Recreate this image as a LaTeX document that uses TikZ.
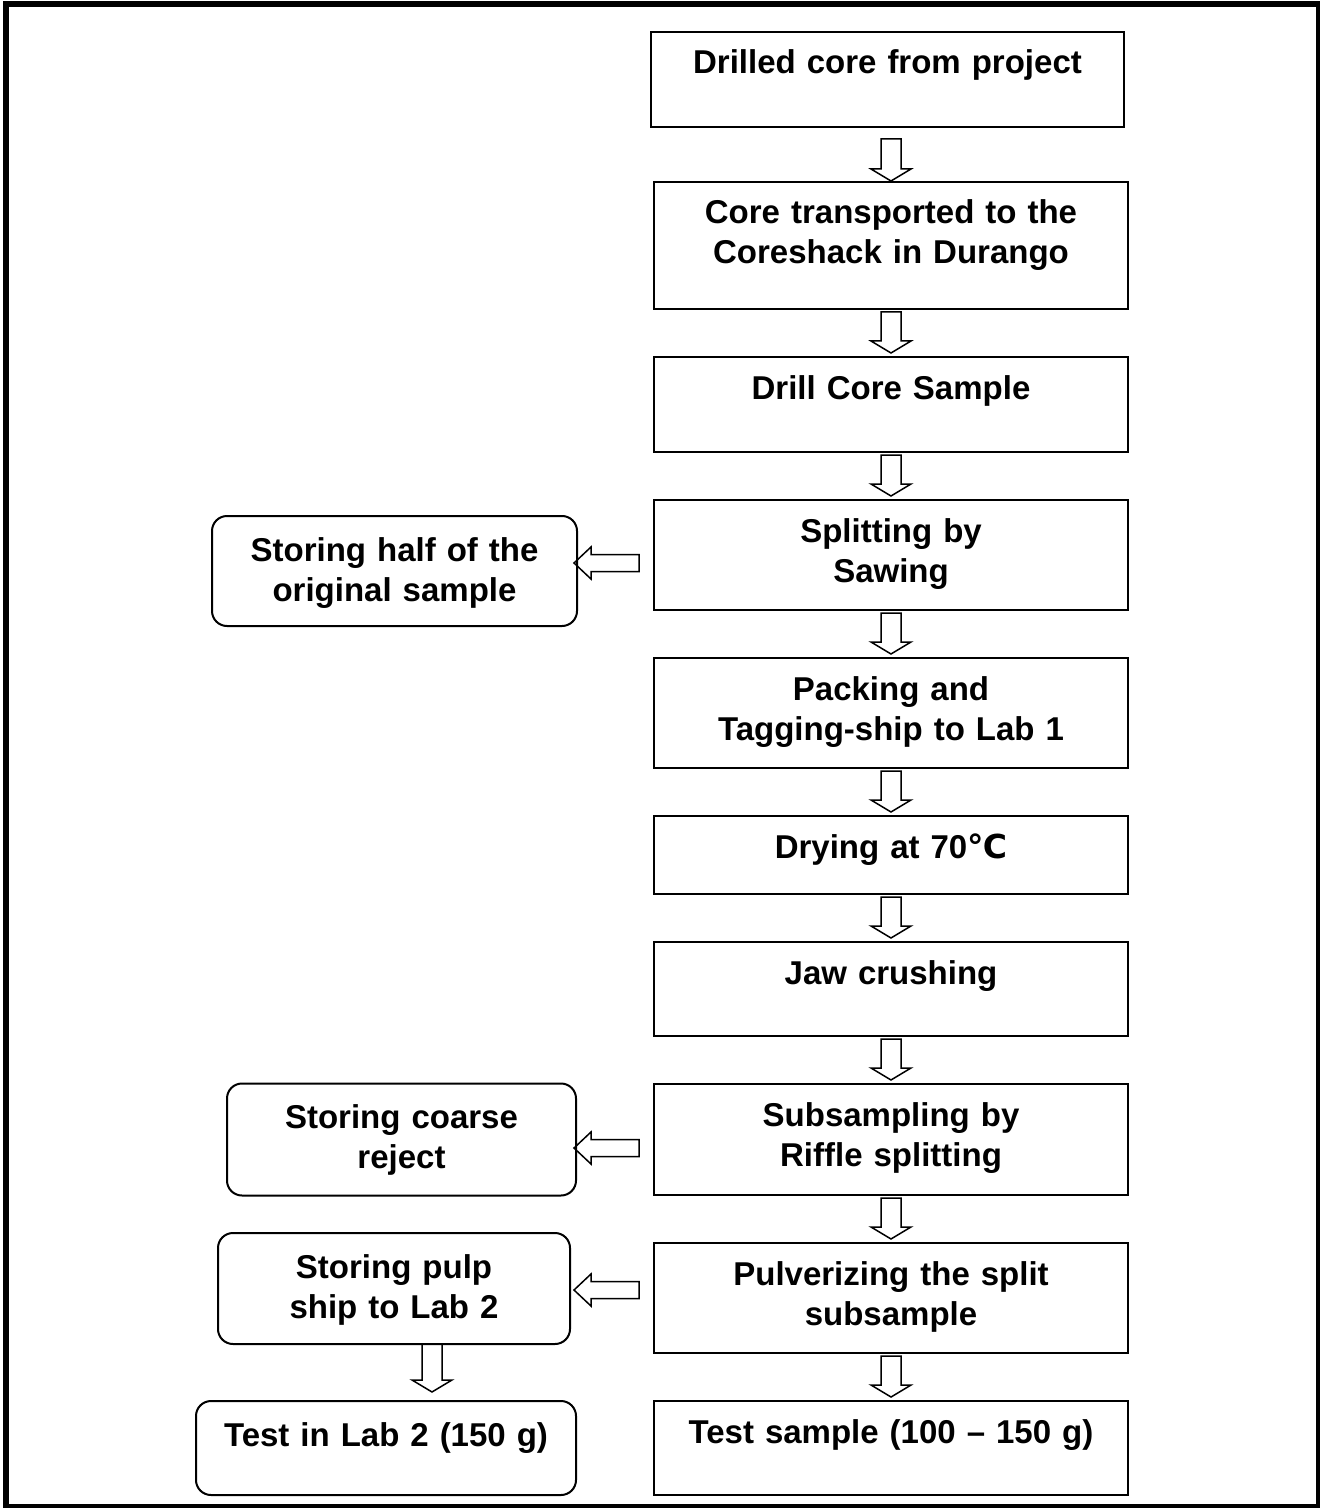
\documentclass[tikz,border=0pt]{standalone}
\usepackage{fontspec}
\setmainfont{Liberation Sans}
\newfontfamily\degfont{DejaVu Sans}
\usetikzlibrary{positioning,calc}

\tikzset{gap top/.store in=\gaptop,gap tip/.store in=\gaptip,
         arrow dx/.store in=\arrowdx,arrow dy/.store in=\arrowdy,
         gap top=1.5pt,gap tip=2pt,arrow dx=0pt,arrow dy=0pt}

\begin{document}
\begin{tikzpicture}[node distance = 24pt]

\tikzstyle{stage}=[draw=black,line width=1pt,inner sep=0pt,outer sep=0pt,text width=237pt,align=center,
                   text height=21pt,font=\bfseries\fontsize{16.5pt}{20pt}\selectfont]
\tikzstyle{store}=[stage,rounded corners=7.5pt,text height=22.5pt]
\tikzstyle{down arrow}=[line width=0.75pt,to path={
    let \p1=(\tikztostart.south), \p2=(\tikztotarget.north),
        \p3=(\x2+\arrowdx,\y1-\gaptop), \p4=(\x2+\arrowdx,\y2+\gaptip) in
    (\x3-5pt,\y3) -- (\x3+5pt,\y3) -- (\x3+5pt,\y4+6pt) -- (\x3+10pt,\y4+6pt)
    -- (\p4) -- (\x3-10pt,\y4+6pt) -- (\x3-5pt,\y4+6pt) -- cycle}]
\tikzstyle{left arrow}=[line width=0.75pt,to path={
    let \p1=(\tikztostart.west), \p2=(\tikztotarget.east),
        \p3=(\x1-7.5pt,\y1+\arrowdy), \p4=(\x2+\gaptip,\y3) in
    (\x3,\y3+4.25pt) -- (\x4+8.5pt,\y3+4.25pt) -- (\x4+8.5pt,\y3+8pt) -- (\p4)
    -- (\x4+8.5pt,\y3-8pt) -- (\x4+8.5pt,\y3-4.25pt) -- (\x3,\y3-4.25pt) -- cycle}]

%page and frame
\useasboundingbox (0,0) rectangle (660pt,-754pt);
\fill [white] (0,0) rectangle (660pt,-754pt);
\draw [line width=3pt] (3pt,-2.25pt) rectangle (659.5pt,-753.5pt);

%main column
\node [stage,text width=236.5pt,text depth=26.5pt,anchor=north] (drilled) at (443.75pt,-16pt) {Drilled core from project};
\node [stage,text depth=42.5pt] (transport) [below=27.5pt of drilled,xshift=1.75pt] {Core transported to the\\Coreshack in Durango};
\node [stage,text depth=26.5pt] (sample) [below=of transport] {Drill Core Sample};
\node [stage,text depth=34pt] (split) [below=of sample] {Splitting by\\Sawing};
\node [stage,text depth=34pt] (pack) [below=of split] {Packing and\\Tagging-ship to Lab 1};
\node [stage,text depth=18pt] (dry) [below=of pack] {Drying at 70{\degfont ℃}};
\node [stage,text depth=26pt] (crush) [below=of dry] {Jaw crushing};
\node [stage,text depth=34.5pt] (subsample) [below=of crush] {Subsampling by\\Riffle splitting};
\node [stage,text depth=34pt] (pulverize) [below=of subsample] {Pulverizing the split\\subsample};
\node [stage,text depth=26pt] (testsample) [below=of pulverize] {Test sample (100 \textendash{} 150 g)};

%side stores
\node [store,text width=182.5pt,text depth=32.5pt] (halfstore) [left=38.5pt of split,yshift=-8pt] {Storing half of the\\original sample};
\node [store,text width=174.5pt,text depth=33.5pt] (rejectstore) [left=39pt of subsample] {Storing coarse\\reject};
\node [store,text width=176pt,text depth=33pt] (pulpstore) [left=42pt of pulverize,yshift=4.75pt] {Storing pulp\\ship to Lab 2};
\node [store,text width=190pt,text depth=24.5pt] (labtest) [left=39pt of testsample] {Test in Lab 2 (150 g)};

%block arrows down the column
\path (drilled) edge [down arrow,gap top=6pt,gap tip=0.5pt] (transport)
      (transport) edge [down arrow] (sample)
      (sample) edge [down arrow] (split)
      (split) edge [down arrow] (pack)
      (pack) edge [down arrow] (dry)
      (dry) edge [down arrow] (crush)
      (crush) edge [down arrow] (subsample)
      (subsample) edge [down arrow] (pulverize)
      (pulverize) edge [down arrow] (testsample);

%block arrows to the stores
\path (split) edge [left arrow,arrow dy=-4pt,gap tip=-1.5pt] (halfstore)
      (subsample) edge [left arrow,arrow dy=-4.25pt,gap tip=-1pt] (rejectstore)
      (pulverize) edge [left arrow,arrow dy=4pt,gap tip=2pt] (pulpstore)
      (pulpstore) edge [down arrow,gap top=0pt,gap tip=4.5pt,arrow dx=23pt] (labtest);

\end{tikzpicture}
\end{document}
